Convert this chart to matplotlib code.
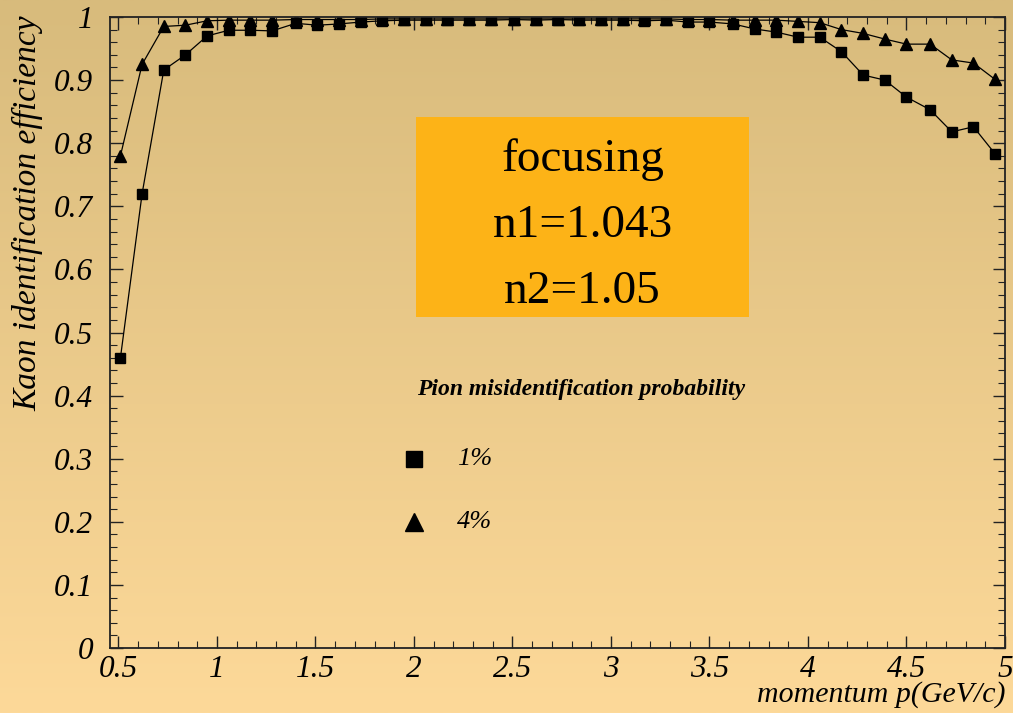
import matplotlib.pyplot as plt
import numpy as np

# momentum points (GeV/c)
momentum = [0.51, 0.62, 0.73, 0.84, 0.95,
            1.06, 1.17, 1.28, 1.40, 1.51, 1.62, 1.73, 1.84, 1.95,
            2.06, 2.17, 2.28, 2.39, 2.51, 2.62, 2.73, 2.84, 2.95,
            3.06, 3.17, 3.28, 3.39, 3.50, 3.62, 3.73, 3.84, 3.95,
            4.06, 4.17, 4.28, 4.39, 4.50, 4.62, 4.73, 4.84, 4.95]

# kaon efficiency at 1% pion misidentification
eff_1pct = [0.46, 0.72, 0.916, 0.94, 0.97,
            0.979, 0.979, 0.978, 0.99, 0.987, 0.989, 0.992, 0.994, 0.995,
            0.995, 0.995, 0.995, 0.995, 0.996, 0.995, 0.996, 0.995, 0.995,
            0.995, 0.994, 0.995, 0.992, 0.992, 0.989, 0.981, 0.976, 0.968,
            0.968, 0.945, 0.908, 0.90, 0.873, 0.853, 0.818, 0.826, 0.783]

# kaon efficiency at 4% pion misidentification
eff_4pct = [0.78, 0.925, 0.985, 0.987, 0.994,
            0.995, 0.995, 0.995, 0.996, 0.996, 0.996, 0.996, 0.997, 0.997,
            0.997, 0.997, 0.997, 0.997, 0.997, 0.997, 0.997, 0.997, 0.997,
            0.997, 0.997, 0.997, 0.996, 0.996, 0.995, 0.995, 0.995, 0.993,
            0.991, 0.98, 0.974, 0.965, 0.957, 0.957, 0.932, 0.927, 0.901]

box_lines = ['focusing', 'n1=1.043', 'n2=1.05']
legend_title = 'Pion misidentification probability'
legend_labels = ['1%', '4%']

serif = ['Liberation Serif', 'DejaVu Serif']

fig = plt.figure(figsize=(10.13, 7.13), dpi=100)

# background gradient
bg = fig.add_axes([0, 0, 1, 1], zorder=-10)
top = np.array([216, 187, 124]) / 255
bottom = np.array([253, 217, 153]) / 255
t = np.linspace(0, 1, 256)[:, None]
grad = (top[None, :] * (1 - t) + bottom[None, :] * t)[:, None, :]
bg.imshow(grad, aspect='auto', extent=[0, 1, 0, 1])
bg.axis('off')

ax = fig.add_axes([110 / 1013, 65 / 713, 895 / 1013, 631 / 713])
ax.set_facecolor('none')

ax.plot(momentum, eff_1pct, color='black', lw=0.9, marker='s', ms=7.5, mfc='black', mec='black')
ax.plot(momentum, eff_4pct, color='black', lw=0.9, marker='^', ms=8, mfc='black', mec='black')

ax.set_xlim(0.457, 5.0)
ax.set_ylim(0, 1)
ax.set_xticks(np.arange(0.5, 5.01, 0.5))
ax.set_xticklabels(['0.5', '1', '1.5', '2', '2.5', '3', '3.5', '4', '4.5', '5'])
ax.set_xticks(np.arange(0.5, 5.01, 0.1), minor=True)
ax.set_yticks(np.arange(0, 1.01, 0.1))
ax.set_yticklabels(['0', '0.1', '0.2', '0.3', '0.4', '0.5', '0.6', '0.7', '0.8', '0.9', '1'])
ax.set_yticks(np.arange(0, 1.001, 0.02), minor=True)

ax.tick_params(which='both', direction='in', top=True, right=True, color='#222222')
ax.tick_params(which='major', length=9, width=1)
ax.tick_params(which='minor', length=5, width=0.8)
ax.tick_params(axis='x', pad=5)
ax.tick_params(axis='y', pad=12)
for lab in ax.get_xticklabels() + ax.get_yticklabels():
    lab.set_family(serif)
    lab.set_style('italic')
    lab.set_fontsize(22.5)
for s in ax.spines.values():
    s.set_linewidth(1.3)
    s.set_color('#222222')

ax.set_ylabel('Kaon identification efficiency', family=serif, style='italic',
              fontsize=24, loc='top')
ax.yaxis.set_label_coords(-0.074, 1.003)
ax.set_xlabel('momentum p(GeV/c)', family=serif, style='italic', fontsize=21.5, loc='right')
ax.xaxis.label.set_va('baseline')
ax.xaxis.set_label_coords(1.0, -0.0856)

# orange parameter box
ax.add_patch(plt.Rectangle((0.342, 0.5246), 0.372, 0.317, transform=ax.transAxes,
                           facecolor='#FDB317', edgecolor='none', zorder=3))
for txt, yy in zip(box_lines, [0.756, 0.652, 0.547]):
    ax.text(0.528, yy, txt, transform=ax.transAxes, ha='center', va='baseline',
            family=serif, fontsize=34, zorder=4)

# legend drawn manually
ax.text(2.85, 0.41, legend_title, ha='center', va='center', family=serif,
        style='italic', weight='bold', fontsize=17)
ax.plot([2.0], [0.30], marker='s', ms=12, color='black', ls='none')
ax.plot([2.0], [0.20], marker='^', ms=13, color='black', ls='none')
ax.text(2.22, 0.30, legend_labels[0], ha='left', va='center', family=serif,
        style='italic', fontsize=19)
ax.text(2.22, 0.20, legend_labels[1], ha='left', va='center', family=serif,
        style='italic', fontsize=19)

fig.savefig('out.png', dpi=100)
